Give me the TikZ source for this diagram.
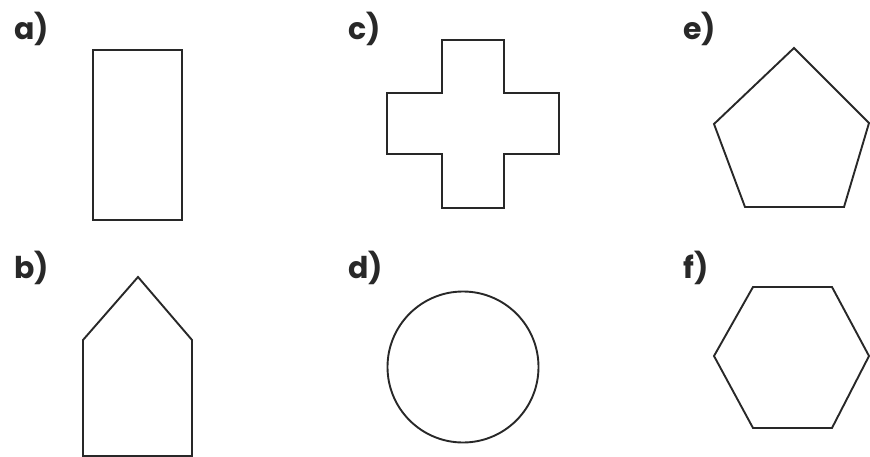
\documentclass[tikz,border=0pt]{standalone}
\usepackage{fontspec}
\setmainfont{Poppins}[BoldFont={* Bold}]
\usepackage{tikz}
\usetikzlibrary{positioning}
\definecolor{shapeline}{RGB}{40,40,40}

\begin{document}
\begin{tikzpicture}[x=1pt,y=-1pt,
  outline/.style={draw=shapeline,line width=1.9pt,line join=miter},
  tag/.style={anchor=base west,inner sep=0pt,font=\bfseries\fontsize{30}{31}\selectfont,text=shapeline}]
  \useasboundingbox (0,0) rectangle (870,457);
  % labels
  \foreach \t/\x/\y in {a/14/40,b/14/278,c/348/40,d/348/278,e/683/40,f/683/278}{
    \node[tag] (lbl\t) at (\x,\y) {\t)};
  }
  % a) rectangle
  \draw[outline] (93,50) rectangle (182,220);
  % b) house
  \draw[outline] (83,456)--(83,340)--(138,277)--(192,340)--(192,456)--cycle;
  % c) cross
  \draw[outline] (442,40)--(504,40)--(504,93)--(559,93)--(559,154)--(504,154)
    --(504,208)--(442,208)--(442,154)--(387,154)--(387,93)--(442,93)--cycle;
  % d) circle
  \draw[outline] (463,367) circle (75.5);
  % e) pentagon
  \draw[outline] (794,48)--(869,123)--(844,207)--(745,207)--(714,124)--cycle;
  % f) hexagon
  \draw[outline] (753,287)--(832,287)--(869,356)--(832,428)--(753,428)--(714,356)--cycle;
\end{tikzpicture}
\end{document}
